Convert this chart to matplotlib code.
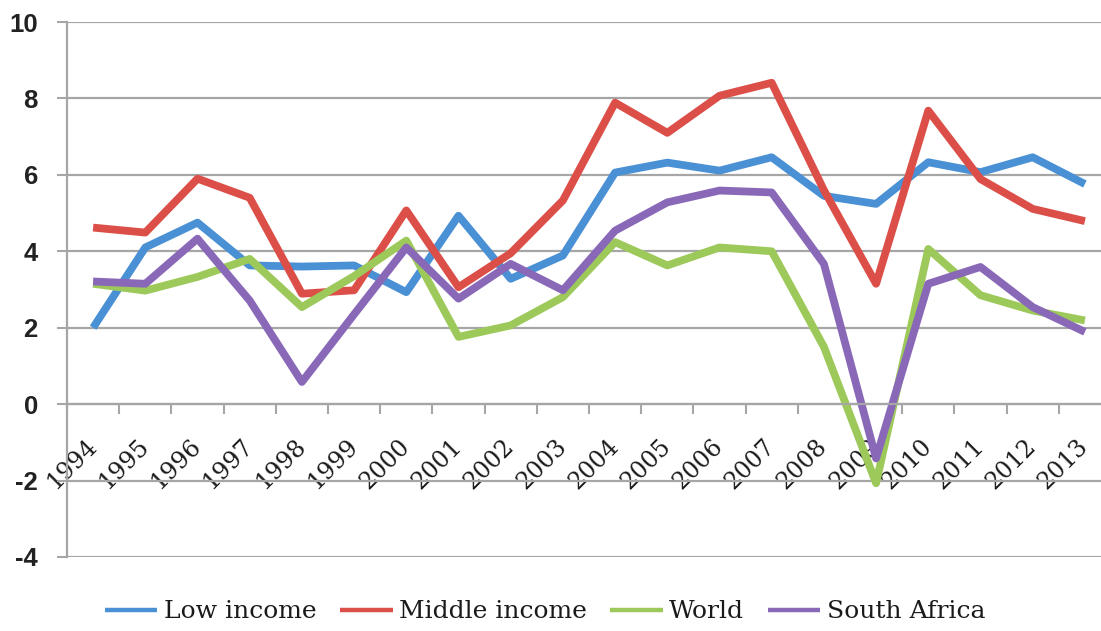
import numpy as np
import matplotlib.pyplot as plt

plt.rcParams["axes.unicode_minus"] = False

years = list(range(1994, 2014))
low_income = [2.0, 4.1, 4.75, 3.63, 3.6, 3.63, 2.93, 4.93, 3.28, 3.89,
              6.06, 6.32, 6.11, 6.46, 5.45, 5.24, 6.33, 6.07, 6.46, 5.76]
middle_income = [4.62, 4.49, 5.9, 5.4, 2.89, 2.98, 5.07, 3.06, 3.95, 5.33,
                 7.89, 7.1, 8.07, 8.41, 5.6, 3.15, 7.68, 5.89, 5.11, 4.79]
world = [3.15, 2.97, 3.33, 3.8, 2.54, 3.35, 4.28, 1.76, 2.06, 2.8,
         4.24, 3.63, 4.1, 4.0, 1.5, -2.07, 4.06, 2.85, 2.45, 2.19]
south_africa = [3.21, 3.15, 4.33, 2.71, 0.58, 2.35, 4.1, 2.76, 3.67, 2.98,
                4.54, 5.28, 5.59, 5.54, 3.67, -1.42, 3.15, 3.59, 2.54, 1.89]

series = [("Low income", low_income, "#4a90d4"),
          ("Middle income", middle_income, "#dc4f49"),
          ("World", world, "#9cc95a"),
          ("South Africa", south_africa, "#8a68b8")]

fig = plt.figure(figsize=(11.01, 6.31), dpi=100)
ax = fig.add_axes([67 / 1101, 1 - 557 / 631, 1044 / 1101, 535 / 631])

x = np.arange(len(years))
for name, vals, col in series:
    ax.plot(x, vals, color=col, lw=5.6, label=name,
            solid_joinstyle="round", solid_capstyle="butt")

ax.set_xlim(-0.5, len(years) - 0.5)
ax.set_ylim(-4, 10)
ax.set_yticks(np.arange(-4, 11, 2))
ax.yaxis.grid(True, color="#a6a6a6", lw=1.6)
ax.set_axisbelow(True)

for s in ["top", "right"]:
    ax.spines[s].set_visible(False)
ax.spines["left"].set_color("#a6a6a6")
ax.spines["left"].set_linewidth(1.6)
ax.spines["bottom"].set_position(("data", 0))
ax.spines["bottom"].set_color("#a6a6a6")
ax.spines["bottom"].set_linewidth(1.6)

# ticks on category boundaries, labels at centres
ax.set_xticks(np.arange(-0.5, len(years), 1.0))
ax.set_xticklabels([])
ax.set_xticks(x, minor=True)
ax.set_xticklabels([str(y) for y in years], minor=True,
                   fontsize=17, family="DejaVu Serif", color="#1a1a1a")
ax.tick_params(axis="x", which="major", direction="out", length=7,
               width=1.5, color="#a6a6a6")
ax.tick_params(axis="x", which="minor", length=0, pad=28)
for lab in ax.get_xticklabels(minor=True):
    lab.set_rotation(45)
    lab.set_ha("right")
    lab.set_va("center")
    lab.set_rotation_mode("anchor")

ax.tick_params(axis="y", direction="out", length=7, width=1.5,
               color="#a6a6a6", pad=14)
for lab in ax.get_yticklabels():
    lab.set_fontsize(18.5)
    lab.set_family("Liberation Sans")
    lab.set_fontweight("bold")
    lab.set_color("#222222")

leg = fig.legend(loc="center", bbox_to_anchor=(545 / 1101, 1 - 612 / 631),
                 ncol=4, frameon=False, handlelength=2.1, handletextpad=0.25,
                 columnspacing=0.95, prop={"family": "DejaVu Serif", "size": 18})
for t in leg.get_texts():
    t.set_color("#1a1a1a")
for ln in leg.get_lines():
    ln.set_linewidth(3.2)

fig.savefig("out.png", dpi=100)
